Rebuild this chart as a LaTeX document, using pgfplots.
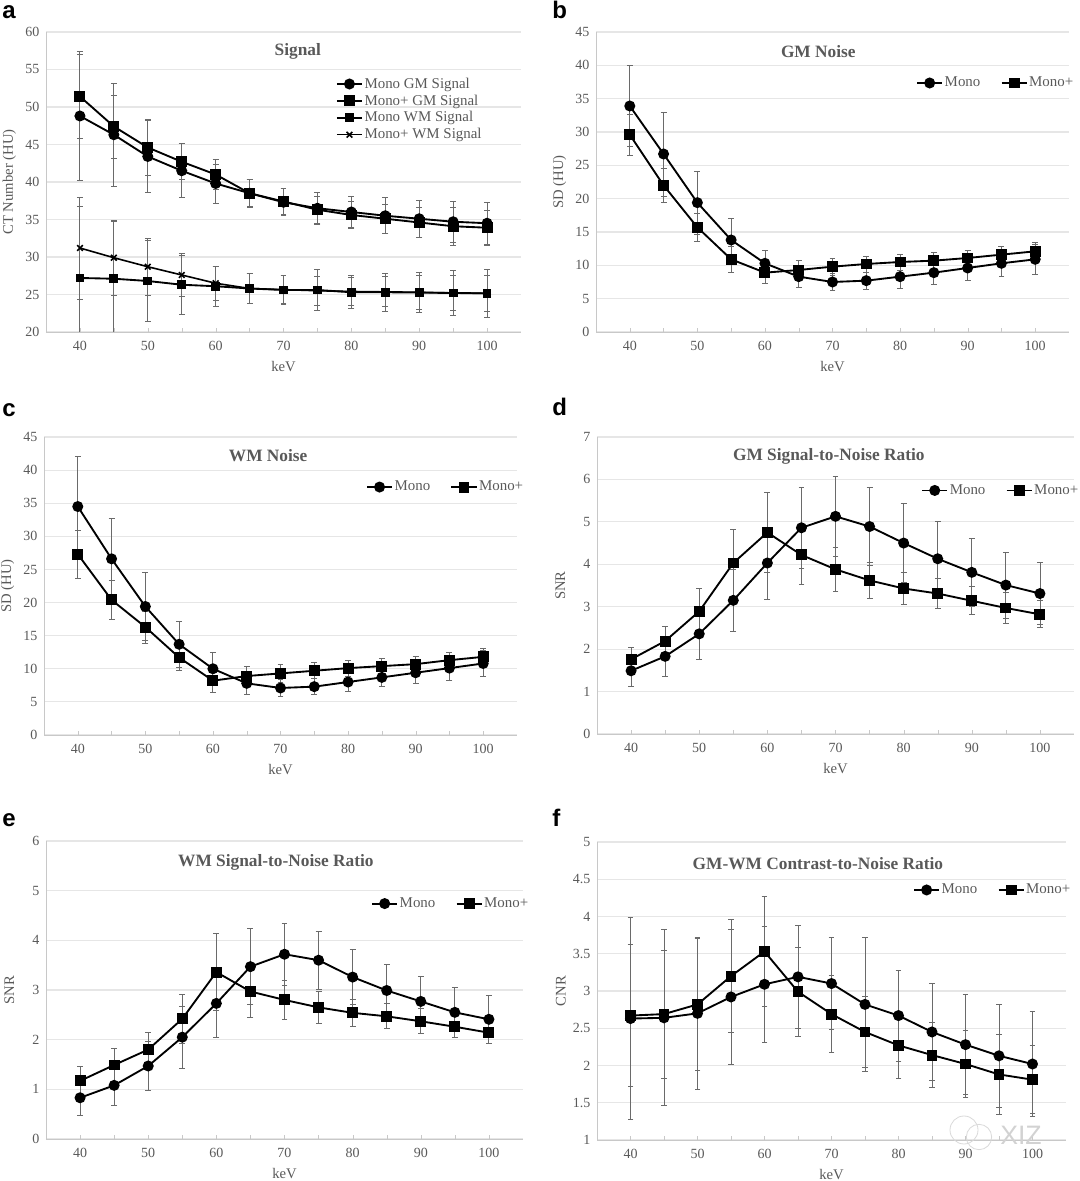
\documentclass[border=0pt]{standalone}
\usepackage{fontspec}
\setmainfont{Liberation Serif}
\newfontfamily\panelfont{Liberation Sans}
\usepackage{pgfplots}
\usepackage{pgfplotstable}
\pgfplotsset{compat=1.18}

\definecolor{txt}{HTML}{595959}
\definecolor{gridc}{HTML}{E6E6E6}
\definecolor{axc}{HTML}{C8C8C8}
\definecolor{errc}{HTML}{6A6A6A}

% x, Mono, err, Mono+, err
\pgfplotstableread{
x m me p pe
40 48.8 8.6 51.4 5.6
45 46.3 6.9 47.4 4.2
50 43.4 4.75 44.6 3.7
55 41.5 3.6 42.7 2.4
60 39.8 2.6 41.0 2.0
65 38.5 1.9 38.5 1.8
70 37.3 1.8 37.4 1.7
75 36.5 2.1 36.3 1.8
80 36.0 2.1 35.6 1.8
85 35.5 2.4 35.1 1.9
90 35.1 2.5 34.6 2.0
95 34.7 2.7 34.1 2.5
100 34.5 2.8 33.9 2.3
}\tabAgm
\pgfplotstableread{
x m me p pe
40 27.2 9.5 31.2 6.8
45 27.1 7.7 29.9 5.0
50 26.8 5.4 28.7 3.8
55 26.3 3.9 27.6 2.9
60 26.1 2.7 26.5 2.3
65 25.8 2.0 25.8 2.0
70 25.6 1.9 25.65 1.9
75 25.6 2.7 25.5 1.9
80 25.3 2.2 25.4 1.9
85 25.3 2.5 25.35 2.0
90 25.25 2.7 25.3 2.25
95 25.2 3.0 25.2 2.35
100 25.15 3.15 25.15 2.45
}\tabAwm
\pgfplotstableread{
x m me p pe
40 33.9 6.1 29.6 3.1
45 26.7 6.3 22.0 2.5
50 19.4 4.7 15.7 2.1
55 13.8 3.2 10.9 1.9
60 10.3 2.0 8.9 1.6
65 8.3 1.6 9.3 1.4
70 7.5 1.3 9.8 1.3
75 7.7 1.3 10.2 1.2
80 8.3 1.7 10.5 1.2
85 8.9 1.8 10.7 1.2
90 9.6 1.9 11.1 1.2
95 10.3 2.0 11.6 1.2
100 10.9 2.2 12.1 1.3
}\tabB
\pgfplotstableread{
x m me p pe
40 34.5 7.5 27.3 3.6
45 26.6 6.1 20.4 3.0
50 19.4 5.1 16.3 2.4
55 13.7 3.5 11.7 2.0
60 10.0 2.5 8.2 1.7
65 7.8 1.7 8.9 1.4
70 7.1 1.3 9.3 1.3
75 7.3 1.2 9.7 1.2
80 8.0 1.4 10.1 1.2
85 8.7 1.4 10.4 1.2
90 9.4 1.6 10.7 1.2
95 10.1 1.8 11.3 1.1
100 10.8 2.0 11.8 1.2
}\tabC
\pgfplotstableread{
x m me p pe
40 1.49 0.38 1.76 0.29
45 1.83 0.48 2.19 0.34
50 2.36 0.61 2.89 0.53
55 3.15 0.73 4.03 0.78
60 4.03 0.85 4.75 0.95
65 4.86 0.95 4.22 0.70
70 5.13 0.95 3.88 0.52
75 4.89 0.92 3.62 0.42
80 4.50 0.93 3.43 0.37
85 4.13 0.87 3.31 0.36
90 3.81 0.81 3.14 0.33
95 3.51 0.78 2.97 0.37
100 3.31 0.73 2.82 0.32
}\tabD
\pgfplotstableread{
x m me p pe
40 0.83 0.35 1.17 0.30
45 1.08 0.41 1.49 0.34
50 1.47 0.49 1.80 0.35
55 2.05 0.62 2.42 0.50
60 2.73 0.68 3.36 0.77
65 3.47 0.76 2.97 0.52
70 3.72 0.63 2.80 0.39
75 3.60 0.58 2.65 0.32
80 3.26 0.55 2.54 0.28
85 2.99 0.53 2.47 0.25
90 2.77 0.51 2.37 0.25
95 2.55 0.50 2.26 0.22
100 2.41 0.48 2.14 0.22
}\tabE
\pgfplotstableread{
x m me p pe
40 2.63 1.36 2.67 0.95
45 2.64 1.18 2.69 0.86
50 2.70 1.02 2.82 0.89
55 2.92 0.90 3.20 0.76
60 3.09 0.78 3.53 0.74
65 3.19 0.69 2.99 0.60
70 3.10 0.62 2.69 0.52
75 2.82 0.90 2.45 0.48
80 2.67 0.61 2.27 0.45
85 2.45 0.65 2.14 0.44
90 2.28 0.67 2.02 0.45
95 2.13 0.69 1.88 0.54
100 2.02 0.71 1.81 0.46
}\tabF

\tikzset{letter/.style={anchor=base west, inner sep=0pt, text=black, font=\panelfont\bfseries\fontsize{18}{20}\selectfont}}

\pgfplotsset{
  panel/.style={
    scale only axis, anchor=south west,
    axis x line=bottom, axis y line=left,
    axis line style={axc, -},
    xmin=35, xmax=105,
    xtick={40,45,...,100},
    xticklabels={40,,50,,60,,70,,80,,90,,100},
    xtick align=inside,
    major tick length=3pt,
    x tick style={axc},
    y tick style={draw=none},
    ymajorgrids, grid style={gridc, line width=0.9pt},
    tick label style={font=\fontsize{10.5}{12}\selectfont, text=txt, /pgf/number format/assume math mode=true},
    x tick label style={yshift=-3.5pt},
    label style={font=\fontsize{11}{12}\selectfont, text=txt},
    xlabel=keV,
    x label style={at={(axis description cs:0.5,-0.115)},anchor=center},
    y label style={at={(axis description cs:-0.077,0.5)},anchor=center},
    title style={font=\fontsize{13}{15}\selectfont\bfseries, text=txt, anchor=center, yshift=-7.2pt},
    legend style={draw=none, fill=none, inner sep=0pt, font=\fontsize{11.2}{12}\selectfont, text=txt, nodes={inner xsep=1.2pt}},
    legend cell align=left,
    legend image code/.code={%
      \draw[mark repeat=2,mark phase=2,##1] plot coordinates {(0cm,0cm)(0.33cm,0cm)(0.66cm,0cm)};},
    error bars/y dir=both, error bars/y explicit,
    error bars/error bar style={errc, line width=0.65pt, solid},
    error bars/error mark options={errc, rotate=90, mark size=2.2pt, line width=0.65pt},
  },
  hleg/.style 2 args={
    legend columns=2,
    legend style={at={(axis description cs:#1,#2)}, anchor=east, /tikz/every even column/.append style={column sep=14pt}},
  },
  mono/.style={black, line width=1.4pt, mark=*, mark size=3.4pt, mark options={solid, fill=black}},
  monop/.style={black, line width=1.4pt, mark=square*, mark size=3.4pt, mark options={solid, fill=black}},
  wm/.style={black, line width=1.4pt, mark=square*, mark size=2.6pt, mark options={solid, fill=black}},
  wmp/.style={black, line width=1.2pt, mark=x, mark size=3pt, mark options={solid}},
}

\begin{document}
\begin{tikzpicture}
\path[use as bounding box] (0,0) rectangle (1080*0.75pt,1181*0.75pt);

\node[letter] at (2*0.75pt,1162*0.75pt) {a};
\node[letter] at (552*0.75pt,1162*0.75pt) {b};
\node[letter] at (2*0.75pt,764*0.75pt) {c};
\node[letter] at (552*0.75pt,765*0.75pt) {d};
\node[letter] at (2*0.75pt,354*0.75pt) {e};
\node[letter] at (552*0.75pt,354*0.75pt) {f};

% a
\begin{axis}[panel, at={(46*0.75pt,849*0.75pt)}, width=356.25pt, height=225pt,
  ymin=20, ymax=60, ytick={20,25,...,60}, ylabel={CT Number (HU)},
  title={Signal}, title style={at={(axis description cs:0.53,0.94)}},
  legend style={at={(axis description cs:0.61,0.857)}, anchor=north west, row sep=-0.6pt}]
\addplot[mono] table[x=x,y=m,y error=me]{\tabAgm};
\addlegendentry{Mono GM Signal}
\addplot[monop] table[x=x,y=p,y error=pe]{\tabAgm};
\addlegendentry{Mono+ GM Signal}
\addplot[wm] table[x=x,y=m,y error=me]{\tabAwm};
\addlegendentry{Mono WM Signal}
\addplot[wmp] table[x=x,y=p,y error=pe]{\tabAwm};
\addlegendentry{Mono+ WM Signal}
\end{axis}

% b
\begin{axis}[panel, at={(596*0.75pt,849*0.75pt)}, width=354.75pt, height=225pt,
  ymin=0, ymax=45, ytick={0,5,...,45}, ylabel={SD (HU)},
  title={GM Noise}, title style={at={(axis description cs:0.47,0.94)}},
  hleg={1.013}{0.83}]
\addplot[mono] table[x=x,y=m,y error=me]{\tabB};
\addlegendentry{Mono}
\addplot[monop] table[x=x,y=p,y error=pe]{\tabB};
\addlegendentry{Mono+}
\end{axis}

% c
\begin{axis}[panel, at={(44*0.75pt,446*0.75pt)}, width=354.75pt, height=223.5pt,
  ymin=0, ymax=45, ytick={0,5,...,45}, ylabel={SD (HU)},
  title={WM Noise}, title style={at={(axis description cs:0.474,0.943)}},
  hleg={1.017}{0.832}]
\addplot[mono] table[x=x,y=m,y error=me]{\tabC};
\addlegendentry{Mono}
\addplot[monop] table[x=x,y=p,y error=pe]{\tabC};
\addlegendentry{Mono+}
\end{axis}

% d
\begin{axis}[panel, at={(597*0.75pt,447*0.75pt)}, width=357.75pt, height=222.75pt,
  ymin=0, ymax=7, ytick={0,1,...,7}, ylabel={SNR},
  title={GM Signal-to-Noise Ratio}, title style={at={(axis description cs:0.486,0.94)}},
  hleg={1.013}{0.82}]
\addplot[mono] table[x=x,y=m,y error=me]{\tabD};
\addlegendentry{Mono}
\addplot[monop] table[x=x,y=p,y error=pe]{\tabD};
\addlegendentry{Mono+}
\end{axis}

% e
\begin{axis}[panel, at={(46*0.75pt,42*0.75pt)}, width=357.75pt, height=223.5pt,
  ymin=0, ymax=6, ytick={0,1,...,6}, ylabel={SNR},
  title={WM Signal-to-Noise Ratio}, title style={at={(axis description cs:0.482,0.933)}},
  hleg={1.015}{0.79}]
\addplot[mono] table[x=x,y=m,y error=me]{\tabE};
\addlegendentry{Mono}
\addplot[monop] table[x=x,y=p,y error=pe]{\tabE};
\addlegendentry{Mono+}
\end{axis}

% f
\begin{axis}[panel, at={(597*0.75pt,41*0.75pt)}, width=351.75pt, height=223.5pt,
  ymin=1, ymax=5, ytick={1,1.5,...,5}, ylabel={CNR},
  yticklabel style={/pgf/number format/fixed},
  title={GM-WM Contrast-to-Noise Ratio}, title style={at={(axis description cs:0.471,0.933)}},
  hleg={1.013}{0.839}]
\addplot[mono] table[x=x,y=m,y error=me]{\tabF};
\addlegendentry{Mono}
\addplot[monop] table[x=x,y=p,y error=pe]{\tabF};
\addlegendentry{Mono+}
\end{axis}

% watermark
\draw[gray!30,line width=0.6pt] (964*0.75pt,51*0.75pt) circle (10.5pt);
\draw[gray!30,line width=0.6pt] (979*0.75pt,44*0.75pt) circle (9.5pt);
\node[gray!35,anchor=west,inner sep=0pt] at (1000*0.75pt,46*0.75pt) {\panelfont\fontsize{20}{20}\selectfont XIZ};
\end{tikzpicture}
\end{document}
